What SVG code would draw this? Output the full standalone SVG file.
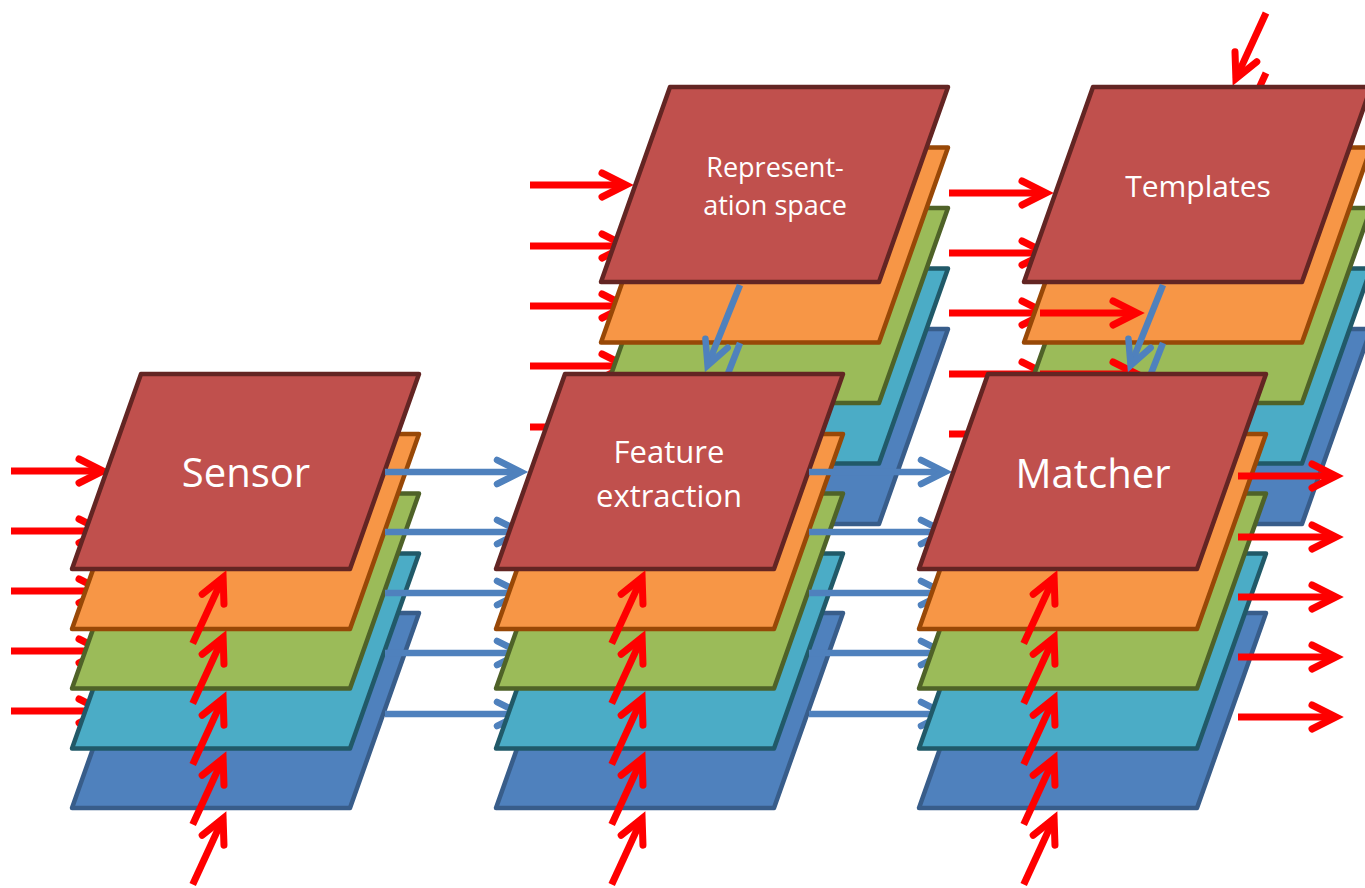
<svg xmlns="http://www.w3.org/2000/svg" width="1365" height="888" viewBox="0 0 1365 888">
<style>
.L0{fill:#C0504D;stroke:#632523}
.L1{fill:#F79646;stroke:#984807}
.L2{fill:#9BBB59;stroke:#4F6228}
.L3{fill:#4BACC6;stroke:#215968}
.L4{fill:#4F81BD;stroke:#385D8A}
use{stroke-width:4.5;stroke-linejoin:round}
.r{fill:none;stroke:#FF0000;stroke-width:7;marker-end:url(#hr)}
.b{fill:none;stroke:#4F81BD;stroke-width:6.5;marker-end:url(#hb)}
text{font-family:"Open Sans","Liberation Sans",sans-serif;fill:#FFFFFF;text-anchor:middle}
</style>
<defs>
<path id="pg" d="M69,0 H347 L278,195 H0 Z"/>
<marker id="hr" markerUnits="userSpaceOnUse" orient="auto" overflow="visible" markerWidth="60" markerHeight="60" refX="0" refY="0"><path d="M-24,-12 L0,0 L-24,12" fill="none" stroke="#FF0000" stroke-width="7" stroke-linecap="round" stroke-linejoin="miter"/></marker>
<marker id="hb" markerUnits="userSpaceOnUse" orient="auto" overflow="visible" markerWidth="60" markerHeight="60" refX="0" refY="0"><path d="M-24,-12 L0,0 L-24,12" fill="none" stroke="#4F81BD" stroke-width="6.5" stroke-linecap="round" stroke-linejoin="miter"/></marker>
</defs>
<rect width="1365" height="888" fill="#FFFFFF"/>

<g id="conn-rep-in" class="connectors">
<path class="r" d="M530,185 H626"/>
<path class="r" d="M530,246 H626"/>
<path class="r" d="M530,306 H626"/>
<path class="r" d="M530,366 H626"/>
<path class="r" d="M530,427 H626"/>
</g>
<g id="rep">
<use href="#pg" class="L4" x="601" y="329"/>
<use href="#pg" class="L3" x="601" y="268.5"/>
<use href="#pg" class="L2" x="601" y="208"/>
<use href="#pg" class="L1" x="601" y="147.5"/>
<use href="#pg" class="L0" x="601" y="87"/>
<text x="775" y="177" font-size="27">Represent-</text>
<text x="775" y="215" font-size="27">ation space</text>
</g>

<g id="conn-tpl-in" class="connectors">
<path class="r" d="M949,193 H1046"/>
<path class="r" d="M949,253 H1046"/>
<path class="r" d="M949,313 H1046"/>
<path class="r" d="M949,374 H1046"/>
<path class="r" d="M949,434 H1046"/>
<path class="r" d="M1266,13 L1235.9,78.6"/>
<path class="r" d="M1266,73 L1235.9,138.6"/>
</g>
<g id="templates">
<use href="#pg" class="L4" x="1024" y="329"/>
<use href="#pg" class="L3" x="1024" y="268.5"/>
<use href="#pg" class="L2" x="1024" y="208"/>
<use href="#pg" class="L1" x="1024" y="147.5"/>
<use href="#pg" class="L0" x="1024" y="87"/>
<text x="1198" y="197" font-size="30">Templates</text>
</g>

<g id="conn-down" class="connectors">
<path class="r" d="M1040,313 H1137"/>
<path class="r" d="M1040,374 H1137"/>
<path class="b" d="M740,285 L707.6,365.5"/>
<path class="b" d="M740,343 L707.6,425.5"/>
<path class="b" d="M1163,285 L1130.6,365.5"/>
<path class="b" d="M1163,343 L1130.6,425.5"/>
</g>

<g id="conn-sensor-in" class="connectors">
<path class="r" d="M11,471 H103"/>
<path class="r" d="M11,531 H103"/>
<path class="r" d="M11,591 H103"/>
<path class="r" d="M11,651 H103"/>
<path class="r" d="M11,711 H103"/>
</g>
<g id="sensor">
<use href="#pg" class="L4" x="72" y="613"/>
<use href="#pg" class="L3" x="72" y="553.5"/>
<use href="#pg" class="L2" x="72" y="493.5"/>
<use href="#pg" class="L1" x="72" y="434"/>
<use href="#pg" class="L0" x="72" y="374"/>
<text x="246" y="487" font-size="40">Sensor</text>
</g>
<g id="conn-sensor" class="connectors">
<path class="r" d="M192.7,643.5 L223.1,577.4"/>
<path class="r" d="M192.7,703.5 L223.1,637.4"/>
<path class="r" d="M192.7,764.5 L223.1,698.4"/>
<path class="r" d="M192.7,824.5 L223.1,758.4"/>
<path class="r" d="M192.7,884.5 L223.1,818.4"/>
<path class="b" d="M385,472 H521"/>
<path class="b" d="M385,532 H521"/>
<path class="b" d="M385,593 H521"/>
<path class="b" d="M385,653 H521"/>
<path class="b" d="M385,714 H521"/>
</g>

<g id="feature">
<use href="#pg" class="L4" x="496" y="613"/>
<use href="#pg" class="L3" x="496" y="553.5"/>
<use href="#pg" class="L2" x="496" y="493.5"/>
<use href="#pg" class="L1" x="496" y="434"/>
<use href="#pg" class="L0" x="496" y="374"/>
<text x="669" y="463" font-size="31">Feature</text>
<text x="669" y="507" font-size="31">extraction</text>
</g>
<g id="conn-feature" class="connectors">
<path class="r" d="M611.7,643.5 L642.1,577.4"/>
<path class="r" d="M611.7,703.5 L642.1,637.4"/>
<path class="r" d="M611.7,764.5 L642.1,698.4"/>
<path class="r" d="M611.7,824.5 L642.1,758.4"/>
<path class="r" d="M611.7,884.5 L642.1,818.4"/>
<path class="b" d="M809,472 H945"/>
<path class="b" d="M809,532 H945"/>
<path class="b" d="M809,593 H945"/>
<path class="b" d="M809,653 H945"/>
<path class="b" d="M809,714 H945"/>
</g>

<g id="matcher">
<use href="#pg" class="L4" x="919" y="613"/>
<use href="#pg" class="L3" x="919" y="553.5"/>
<use href="#pg" class="L2" x="919" y="493.5"/>
<use href="#pg" class="L1" x="919" y="434"/>
<use href="#pg" class="L0" x="919" y="374"/>
<text x="1093" y="488" font-size="40">Matcher</text>
</g>
<g id="conn-matcher" class="connectors">
<path class="r" d="M1023.7,643.5 L1054.1,577.4"/>
<path class="r" d="M1023.7,703.5 L1054.1,637.4"/>
<path class="r" d="M1023.7,764.5 L1054.1,698.4"/>
<path class="r" d="M1023.7,824.5 L1054.1,758.4"/>
<path class="r" d="M1023.7,884.5 L1054.1,818.4"/>
<path class="r" d="M1238,476 H1336"/>
<path class="r" d="M1238,537 H1336"/>
<path class="r" d="M1238,597 H1336"/>
<path class="r" d="M1238,657 H1336"/>
<path class="r" d="M1238,717 H1336"/>
</g>
</svg>
